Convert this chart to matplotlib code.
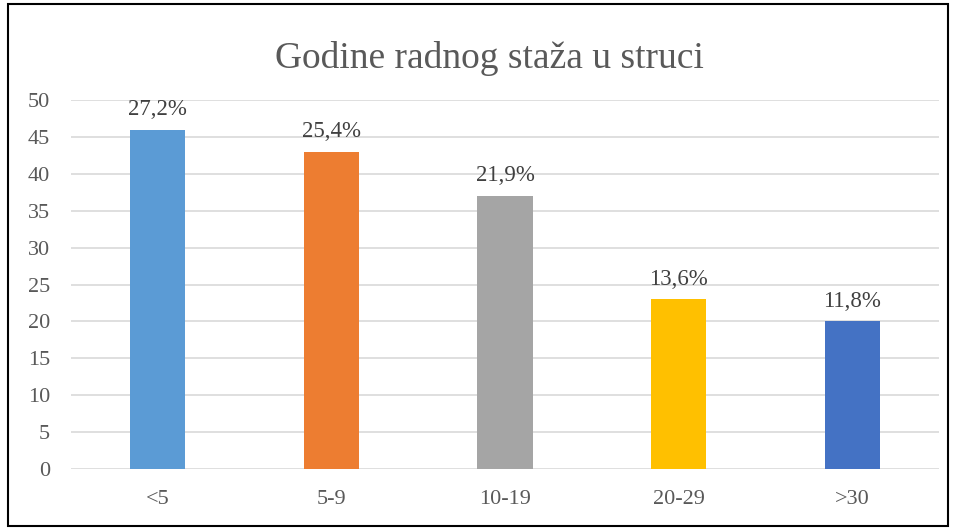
import matplotlib
matplotlib.use("Agg")
import matplotlib.pyplot as plt
from matplotlib.patches import Rectangle

categories = ["<5", "5-9", "10-19", "20-29", ">30"]
values = [46, 43, 37, 23, 20]
labels = ["27,2%", "25,4%", "21,9%", "13,6%", "11,8%"]
colors = ["#5B9BD5", "#ED7D31", "#A5A5A5", "#FFC000", "#4472C4"]
title = "Godine radnog staža u struci"

plt.rcParams['font.family'] = ['Liberation Serif', 'DejaVu Serif']

fig = plt.figure(figsize=(9.56, 5.29), dpi=100)
ax = fig.add_axes([71/956, 1 - 469/529, (939-71)/956, (469-100)/529])

x = list(range(len(categories)))
bars = ax.bar(x, values, width=0.317, color=colors, zorder=3)
for xi, v, lab in zip(x, values, labels):
    ax.text(xi, v + 1.3, lab, ha='center', va='bottom', fontsize=16.5, color='#404040')

ax.set_xlim(-0.5, len(categories) - 0.5)
ax.set_ylim(0, 50)
ax.set_yticks(range(0, 51, 5))
ax.yaxis.grid(True, color='#D9D9D9', linewidth=1.2, zorder=0)
ax.set_xticks(x)
ax.set_xticklabels(categories)
ax.tick_params(axis='both', length=0, labelsize=16, labelcolor='#595959')
ax.tick_params(axis='x', pad=15)
ax.tick_params(axis='y', pad=15)
for s in ax.spines.values():
    s.set_visible(False)

fig.text(489/956, 1 - 58/529, title, ha='center', va='center', fontsize=27, color='#595959')

fig.patches.append(Rectangle((8/956, 3/529), (948-8)/956, (525-3)/529, transform=fig.transFigure,
                             fill=False, edgecolor='black', linewidth=1.5))

fig.savefig("out.png", dpi=100)
